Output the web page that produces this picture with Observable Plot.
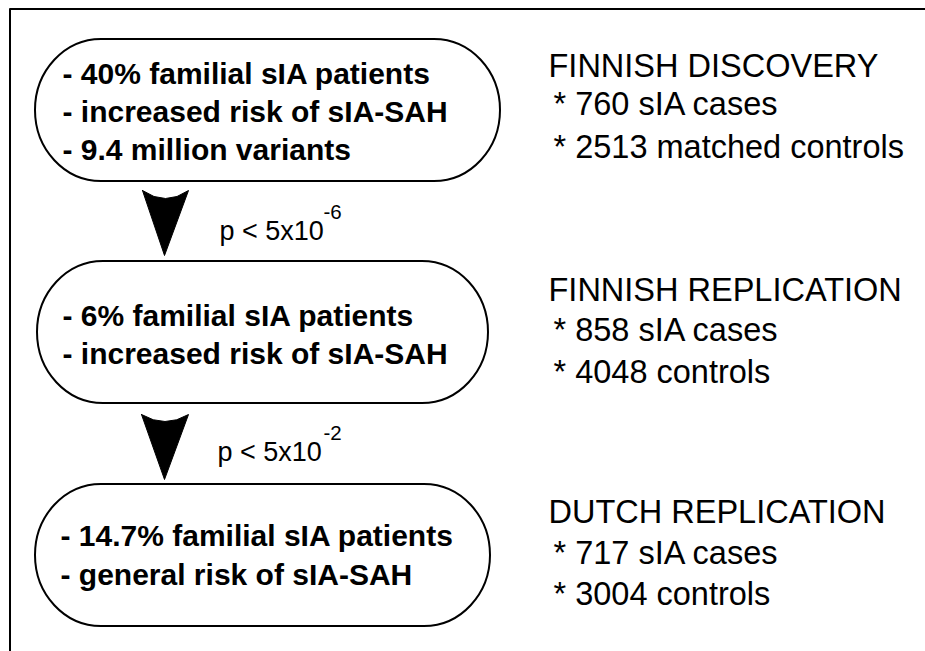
<!DOCTYPE html>
<html>
<head>
<meta charset="utf-8">
<script src="https://cdn.jsdelivr.net/npm/d3@7"></script>
<script src="https://cdn.jsdelivr.net/npm/@observablehq/plot@0.6"></script>
<style>
  html, body { margin: 0; padding: 0; background: #fff; }
  #chart svg { display: block; }
</style>
</head>
<body>
<div id="chart"></div>
<script>
// ---- data (text content) ----
const stageLines = [
  ["- 40% familial sIA patients", "- increased risk of sIA-SAH", "- 9.4 million variants"],
  ["- 6% familial sIA patients", "- increased risk of sIA-SAH"],
  ["- 14.7% familial sIA patients", "- general risk of sIA-SAH"]
];
const cohortTitles = ["FINNISH DISCOVERY", "FINNISH REPLICATION", "DUTCH REPLICATION"];
const cohortCases = ["* 760 sIA cases", "* 858 sIA cases", "* 717 sIA cases"];
const cohortControls = ["* 2513 matched controls", "* 4048 controls", "* 3004 controls"];
const thresholdBase = ["p < 5x10", "p < 5x10"];
const thresholdExp = ["-6", "-2"];

// ---- layout (positions in page pixels) ----
const pills = [
  {x1: 35, x2: 500, y1: 39, y2: 181},
  {x1: 37, x2: 488, y1: 261, y2: 403},
  {x1: 35, x2: 490, y1: 484, y2: 626}
];
const pillLineY = [[74, 112, 150], [316, 354], [536, 575]];
const pillTextX = [62, 62, 60];
const rightX = 548;
const rightY = [[66, 104, 147], [290, 330, 372], [512, 553, 594]];
const pTextPos = [{x: 219, y: 231, sx: 323, sy: 212}, {x: 217, y: 452, sx: 323, sy: 433}];
const arrows = [
  {l: 142, r: 188, top: 190, dip: 8, tipX: 164, tipY: 255},
  {l: 141, r: 188, top: 414, dip: 7, tipX: 164, tipY: 479}
];

// ---- build tables ----
const pillText = stageLines.flatMap((lines, i) => lines.map((t, j) => ({t, x: pillTextX[i], y: pillLineY[i][j]})));
const rightText = cohortTitles.flatMap((title, i) => [
  {t: title, x: rightX, y: rightY[i][0]},
  {t: cohortCases[i], x: rightX + 5, y: rightY[i][1]},
  {t: cohortControls[i], x: rightX + 5, y: rightY[i][2]}
]);
const pBase = thresholdBase.map((t, i) => ({t, x: pTextPos[i].x, y: pTextPos[i].y}));
const pExp = thresholdExp.map((t, i) => ({t, x: pTextPos[i].sx, y: pTextPos[i].sy}));
const arrowPts = arrows.flatMap((a, k) => {
  const m = (a.l + a.r) / 2;
  return [
    {k, x: a.l, y: a.top},
    {k, x: a.l + (a.r - a.l) * 0.25, y: a.top + a.dip * 0.75},
    {k, x: m, y: a.top + a.dip},
    {k, x: a.l + (a.r - a.l) * 0.75, y: a.top + a.dip * 0.75},
    {k, x: a.r, y: a.top},
    {k, x: a.tipX, y: a.tipY},
    {k, x: a.l, y: a.top}
  ];
});
const border = [{x: 9.5, y: 651}, {x: 9.5, y: 8.5}, {x: 925, y: 8.5}];

const FONT = "Liberation Sans, Arial, Helvetica, sans-serif";

const chart = Plot.plot({
  width: 925,
  height: 651,
  margin: 0,
  style: {background: "#fff", fontFamily: FONT},
  x: {domain: [0, 925], range: [0, 925], axis: null},
  y: {domain: [0, 651], range: [0, 651], axis: null},
  marks: [
    Plot.line(border, {x: "x", y: "y", stroke: "#000", strokeWidth: 2}),
    Plot.rect(pills, {x1: "x1", x2: "x2", y1: "y1", y2: "y2", rx: 66, ry: 71, fill: "#fff", stroke: "#000", strokeWidth: 2}),
    Plot.line(arrowPts, {x: "x", y: "y", z: "k", fill: "#000", stroke: "#000", strokeWidth: 1}),
    Plot.text(pillText, {x: "x", y: "y", text: "t", textAnchor: "start", fontSize: 30, fontWeight: "bold", fill: "#000", fontFamily: FONT}),
    Plot.text(rightText, {x: "x", y: "y", text: "t", textAnchor: "start", fontSize: 32.5, fill: "#000", fontFamily: FONT}),
    Plot.text(pBase, {x: "x", y: "y", text: "t", textAnchor: "start", fontSize: 27, fill: "#000", fontFamily: FONT}),
    Plot.text(pExp, {x: "x", y: "y", text: "t", textAnchor: "start", fontSize: 20.5, fill: "#000", fontFamily: FONT})
  ]
});
document.getElementById("chart").appendChild(chart);
</script>
</body>
</html>
